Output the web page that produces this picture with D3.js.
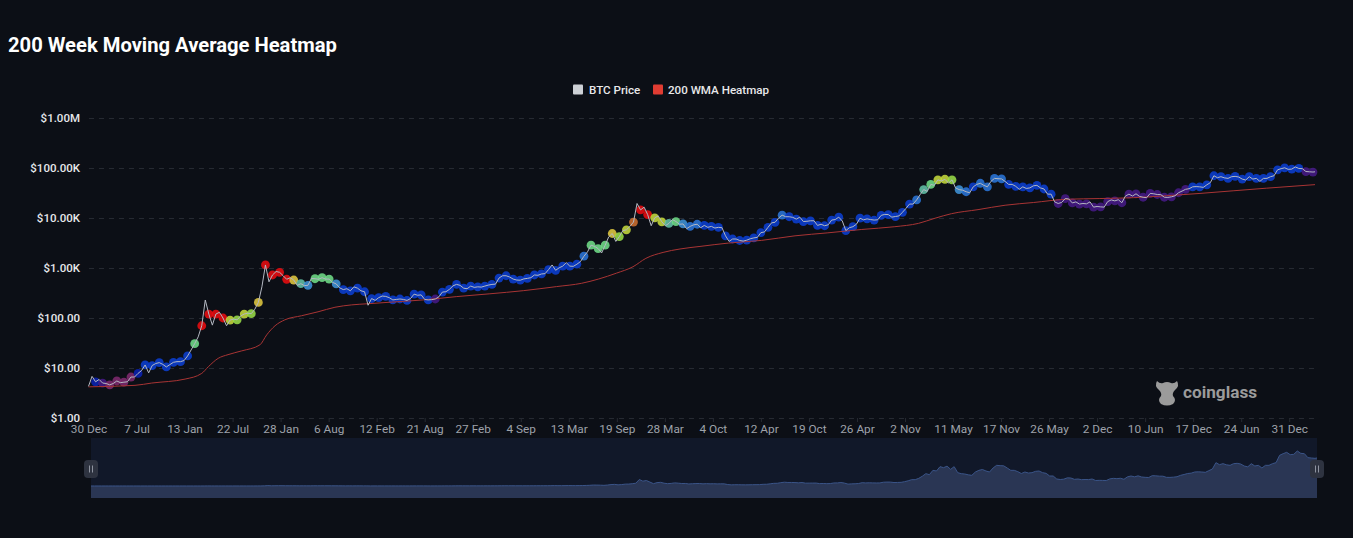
<!DOCTYPE html>
<html>
<head>
<meta charset="utf-8">
<script src="https://cdn.jsdelivr.net/npm/d3@7"></script>
<style>
  html, body { margin: 0; background: #0c0f16; overflow: hidden; }
  text { font-family: Roboto, sans-serif; }
</style>
</head>
<body>
<svg id="chart"></svg>
<script>
const width = 1353;
const height = 538;

const startDate = new Date(Date.UTC(2011, 11, 30));
const endDate = new Date(Date.UTC(2025, 3, 12));

const xTickDates = ['2011-12-30', '2012-07-07', '2013-01-13', '2013-07-22', '2014-01-28', '2014-08-06',
  '2015-02-12', '2015-08-21', '2016-02-27', '2016-09-04', '2017-03-13', '2017-09-19', '2018-03-28',
  '2018-10-04', '2019-04-12', '2019-10-19', '2020-04-26', '2020-11-02', '2021-05-11', '2021-11-17',
  '2022-05-26', '2022-12-02', '2023-06-10', '2023-12-17', '2024-06-24', '2024-12-31'];
const yTickValues = [1, 10, 100, 1000, 10000, 100000, 1000000];
const yTickLabels = ['$1.00', '$10.00', '$100.00', '$1.00K', '$10.00K', '$100.00K', '$1.00M'];

// BTC close every 14 days from 30 Dec 2011, the last one is 12 Apr 2025
const btcPrice = [
  4.3, 6.8, 5.3, 5.9, 5.0, 4.9, 4.6, 4.9, 5.5, 5.1, 5.2, 5.3, 6.6, 6.6, 7.8, 8.9, 11.5, 8.0, 11.2, 12.3,
  12.8, 11.8, 10.5, 11.7, 13, 13.4, 13.4, 14.1,
  17.4, 23, 30.6, 42, 70, 229, 120, 72, 120, 130, 100, 70, 91, 95, 92, 110, 120, 125, 122, 150, 205, 420,
  1150, 530, 725,
  850, 820, 700, 595, 640, 575, 450, 485, 445, 450, 620, 610, 595, 640, 600, 600, 515, 480, 400, 370, 385,
  350, 420, 395, 350, 335,
  180, 245, 225, 255, 275, 270, 255, 230, 235, 240, 235, 225, 245, 300, 285, 290, 235, 230, 233, 240, 265,
  330, 335, 375, 440, 470,
  450, 395, 385, 435, 410, 420, 415, 435, 455, 470, 475, 630, 700, 700, 660, 600, 575, 570, 605, 620, 640,
  725, 715, 760, 770, 930,
  1150, 900, 1010, 1090, 1280, 1090, 1080, 1190, 1340, 1720, 2100, 2860, 2700, 2450, 2000, 2860, 4200, 4900,
  3400, 4250, 5600, 5800, 6800, 8300, 19500, 14500,
  16500, 11700, 7000, 10100, 11000, 8400, 7000, 7800, 9300, 8500, 7500, 7600, 6100, 6800, 7300, 7500, 6400,
  7100, 6500, 6800, 6300, 6500, 6400, 4400, 3400, 3800,
  3800, 3550, 3450, 3600, 3850, 4000, 4100, 5100, 5250, 6500, 8000, 8200, 10000, 11400, 10600, 10600, 10300,
  9500, 10400, 8500, 8600, 8800, 8800, 7100, 7500, 7000,
  7300, 9100, 9300, 10400, 8700, 5600, 6400, 6700, 7500, 9900, 9200, 9600, 9300, 9100, 9200, 11300, 11800,
  11700, 10400, 10700, 11000, 13000, 15600, 19000, 19000, 23000,
  29300, 37000, 34000, 47000, 45000, 58000, 55000, 59500, 50000, 58000, 40000, 37000, 36000, 33500, 32000,
  42000, 47000, 49500, 45000, 42000, 54000, 62000, 61000, 60500, 54000, 47000,
  47000, 43000, 37500, 42000, 39000, 40000, 44000, 45000, 40000, 38000, 30000, 30000, 21000, 19500, 20500,
  24500, 24000, 20000, 21000, 19000, 19500, 19200, 21000, 16500, 17000, 16700,
  16500, 21300, 23000, 22000, 23200, 20200, 27500, 30000, 27500, 30500, 27000, 26000, 25500, 31000, 30500,
  29500, 29400, 26000, 25800, 26500, 27800, 32000, 34500, 37500, 38500, 42000,
  42500, 42000, 41000, 46000, 51000, 70000, 64000, 67000, 63500, 62000, 67000, 68000, 66000, 60000, 57500,
  67000, 60000, 62000, 54000, 62000, 62000, 67000, 70000, 92000, 97000, 101000,
  94000, 95000, 105000, 98000, 97000, 85000, 84000, 83000, 84000
];

// heat level of each 28 day dot, first dot on 27 Jan 2012
const dotHeat = [
  2, 1, 0, 0, 0, 0, 2, 3, 3, 3, 3, 3, 3,
  3, 7, 12, 12, 12, 12, 9, 8, 9, 8, 10, 12, 12,
  12, 12, 10, 6, 5, 7, 7, 7, 5, 3, 3, 3, 3,
  3, 3, 3, 3, 3, 3, 3, 3, 3, 1, 3, 3, 3,
  3, 3, 3, 3, 3, 3, 3, 3, 3, 3, 3, 3, 3,
  3, 3, 3, 3, 4, 7, 7, 7, 10, 8, 9, 11, 12,
  12, 9, 9, 6, 7, 5, 4, 4, 3, 3, 3, 3, 3,
  3, 3, 3, 3, 3, 3, 4, 3, 3, 3, 3, 3, 3,
  3, 3, 3, 3, 3, 3, 3, 3, 3, 3, 3, 3, 4,
  6, 7, 9, 9, 8, 5, 4, 3, 4, 4, 4, 4, 3,
  3, 3, 3, 3, 3, 3, 1, 1, 1, 1, 1, 1, 1,
  1, 1, 1, 1, 1, 1, 1, 1, 1, 1, 1, 1, 3,
  3, 3, 3, 3, 3, 3, 3, 3, 3, 3, 3, 3, 3,
  3, 3, 1, 1
];

// 200 week average, read at these day offsets from the start
const wmaDays = [0, 184, 250, 382, 448, 474, 513, 552, 606, 678, 705, 738, 777, 843, 908, 975, 1041, 1106, 1200,
  1324, 1457, 1588, 1720, 1852, 1951, 2017, 2089, 2154, 2205, 2273, 2340, 2419, 2531, 2663, 2795, 2925, 3059,
  3190, 3283, 3349, 3414, 3519, 3626, 3738, 3869, 4001, 4133, 4265, 4397, 4528, 4661, 4852];
const wmaValues = [4.2, 4.5, 5.0, 6.0, 7.8, 10.6, 15.6, 18.5, 22, 29, 46, 70, 92, 111, 133, 164, 183, 193, 208,
  230, 268, 305, 352, 425, 495, 600, 790, 1060, 1560, 2050, 2400, 2700, 3150, 3570, 4400, 5050, 5900,
  6700, 7800, 9900, 12200, 14700, 18000, 20400, 23700, 24500, 25500, 27900, 31000, 35000, 39500, 46500];

const heatColors = ['#7e2a6e', '#451a85', '#0a22b0', '#0b3fd0', '#2a75d8', '#3f93d8', '#62c0a6',
  '#70dc88', '#98dc48', '#c4d83c', '#e0c840', '#cc7030', '#e80c10'];

const priceDate = i => d3.min([d3.utcDay.offset(startDate, i * 14), endDate]);
const priceData = btcPrice.map((v, i) => ({ date: priceDate(i), value: v }));
const dotData = dotHeat.map((h, i) => ({ date: priceData[(i + 1) * 2].date, value: priceData[(i + 1) * 2].value, heat: h }));
const wmaData = wmaDays.map((d, i) => ({ date: d3.utcDay.offset(startDate, d), value: wmaValues[i] }));

const x = d3.scaleUtc().domain([startDate, endDate]).range([88.5, 1315]);
const y = d3.scaleLog().domain([1, 1000000]).range([418, 118]);
const heat = d3.scaleOrdinal().domain(d3.range(heatColors.length)).range(heatColors);

const svg = d3.select('#chart')
  .attr('width', width)
  .attr('height', height)
  .style('display', 'block');

svg.append('text')
  .attr('x', 8)
  .attr('y', 52)
  .attr('fill', '#ffffff')
  .style('font-size', '20.2px')
  .style('font-weight', 700)
  .text('200 Week Moving Average Heatmap');

// legend
const legend = svg.append('g').attr('transform', 'translate(573,84.5)');
legend.append('rect').attr('width', 10).attr('height', 10).attr('rx', 1).attr('fill', '#cdd0d5');
legend.append('text').attr('x', 16).attr('y', 9.5).attr('fill', '#e8e8ea')
  .style('font-size', '11.6px').style('font-weight', 500).text('BTC Price');
legend.append('rect').attr('x', 80).attr('width', 10).attr('height', 10).attr('rx', 1).attr('fill', '#e03c32');
legend.append('text').attr('x', 95).attr('y', 9.5).attr('fill', '#e8e8ea')
  .style('font-size', '11.6px').style('font-weight', 500).text('200 WMA Heatmap');

// axes
const yAxis = svg.append('g')
  .attr('transform', 'translate(89,0)')
  .call(d3.axisLeft(y).tickValues(yTickValues).tickSize(0).tickPadding(9)
    .tickFormat((d, i) => yTickLabels[i]));
yAxis.select('.domain').remove();
yAxis.selectAll('text')
  .attr('fill', '#e6e7ea')
  .style('font-size', '11.5px')
  .style('font-weight', 500);
yAxis.selectAll('.tick').append('line')
  .attr('x2', 1227)
  .attr('stroke', '#262a32')
  .attr('stroke-dasharray', '5,5');

const xAxis = svg.append('g')
  .attr('transform', 'translate(0,418)')
  .call(d3.axisBottom(x).tickValues(xTickDates.map(d => new Date(d))).tickSize(4).tickPadding(3)
    .tickFormat(d3.utcFormat('%-d %b')));
xAxis.select('.domain').remove();
xAxis.selectAll('line').attr('stroke', '#262a32');
xAxis.selectAll('text')
  .attr('fill', '#9ea2aa')
  .style('font-size', '11.8px');

// watermark
const mark = svg.append('g').attr('fill', '#9b9b9b');
mark.append('path')
  .attr('d', 'M1157,381 Q1160,384 1163,383 Q1167,381 1171,383 Q1174,384 1177,381 Q1180,386 1175,390 Q1172,393 1173,396 Q1177,400 1173,404 Q1167,407 1161,404 Q1157,400 1161,396 Q1162,393 1159,390 Q1154,386 1157,381 Z');
mark.append('text')
  .attr('x', 1183)
  .attr('y', 398)
  .style('font-size', '17.2px')
  .style('font-weight', 700)
  .text('coinglass');

// heat dots under the price line
svg.append('g').selectAll('circle')
  .data(dotData)
  .enter()
  .append('circle')
  .attr('cx', d => x(d.date))
  .attr('cy', d => y(d.value))
  .attr('r', 4.4)
  .attr('fill', d => heat(d.heat))
  .attr('fill-opacity', 0.88);

const line = d3.line().x(d => x(d.date)).y(d => y(d.value));

svg.append('path')
  .datum(wmaData)
  .attr('fill', 'none')
  .attr('stroke', '#a83434')
  .attr('stroke-width', 1)
  .attr('d', line.curve(d3.curveMonotoneX));

svg.append('path')
  .datum(priceData)
  .attr('fill', 'none')
  .attr('stroke', '#b4b8c2')
  .attr('stroke-width', 1)
  .attr('d', line.curve(d3.curveLinear));

// range slider under the chart
const sliderX = d3.scaleUtc().domain([startDate, endDate]).range([91, 1317]);
const sliderY = d3.scaleLinear().domain([0, 108000]).range([486, 450]);

svg.append('rect')
  .attr('x', 91)
  .attr('y', 438)
  .attr('width', 1226)
  .attr('height', 60)
  .attr('fill', '#111829');

svg.append('path')
  .datum(priceData)
  .attr('fill', '#2a3654')
  .attr('d', d3.area().x(d => sliderX(d.date)).y0(498).y1(d => sliderY(d.value)));

svg.append('path')
  .datum(priceData)
  .attr('fill', 'none')
  .attr('stroke', '#3a5488')
  .attr('d', d3.line().x(d => sliderX(d.date)).y(d => sliderY(d.value)));

const handles = svg.append('g').selectAll('g')
  .data(sliderX.range())
  .enter()
  .append('g')
  .attr('transform', d => `translate(${d},469)`);
handles.append('rect')
  .attr('x', -7)
  .attr('y', -9)
  .attr('width', 14)
  .attr('height', 18)
  .attr('rx', 4)
  .attr('fill', '#2e3340');
handles.selectAll('line')
  .data([-1.5, 1.5])
  .enter()
  .append('line')
  .attr('x1', d => d)
  .attr('x2', d => d)
  .attr('y1', -3.5)
  .attr('y2', 3.5)
  .attr('stroke', '#8f94a0');
</script>
</body>
</html>
